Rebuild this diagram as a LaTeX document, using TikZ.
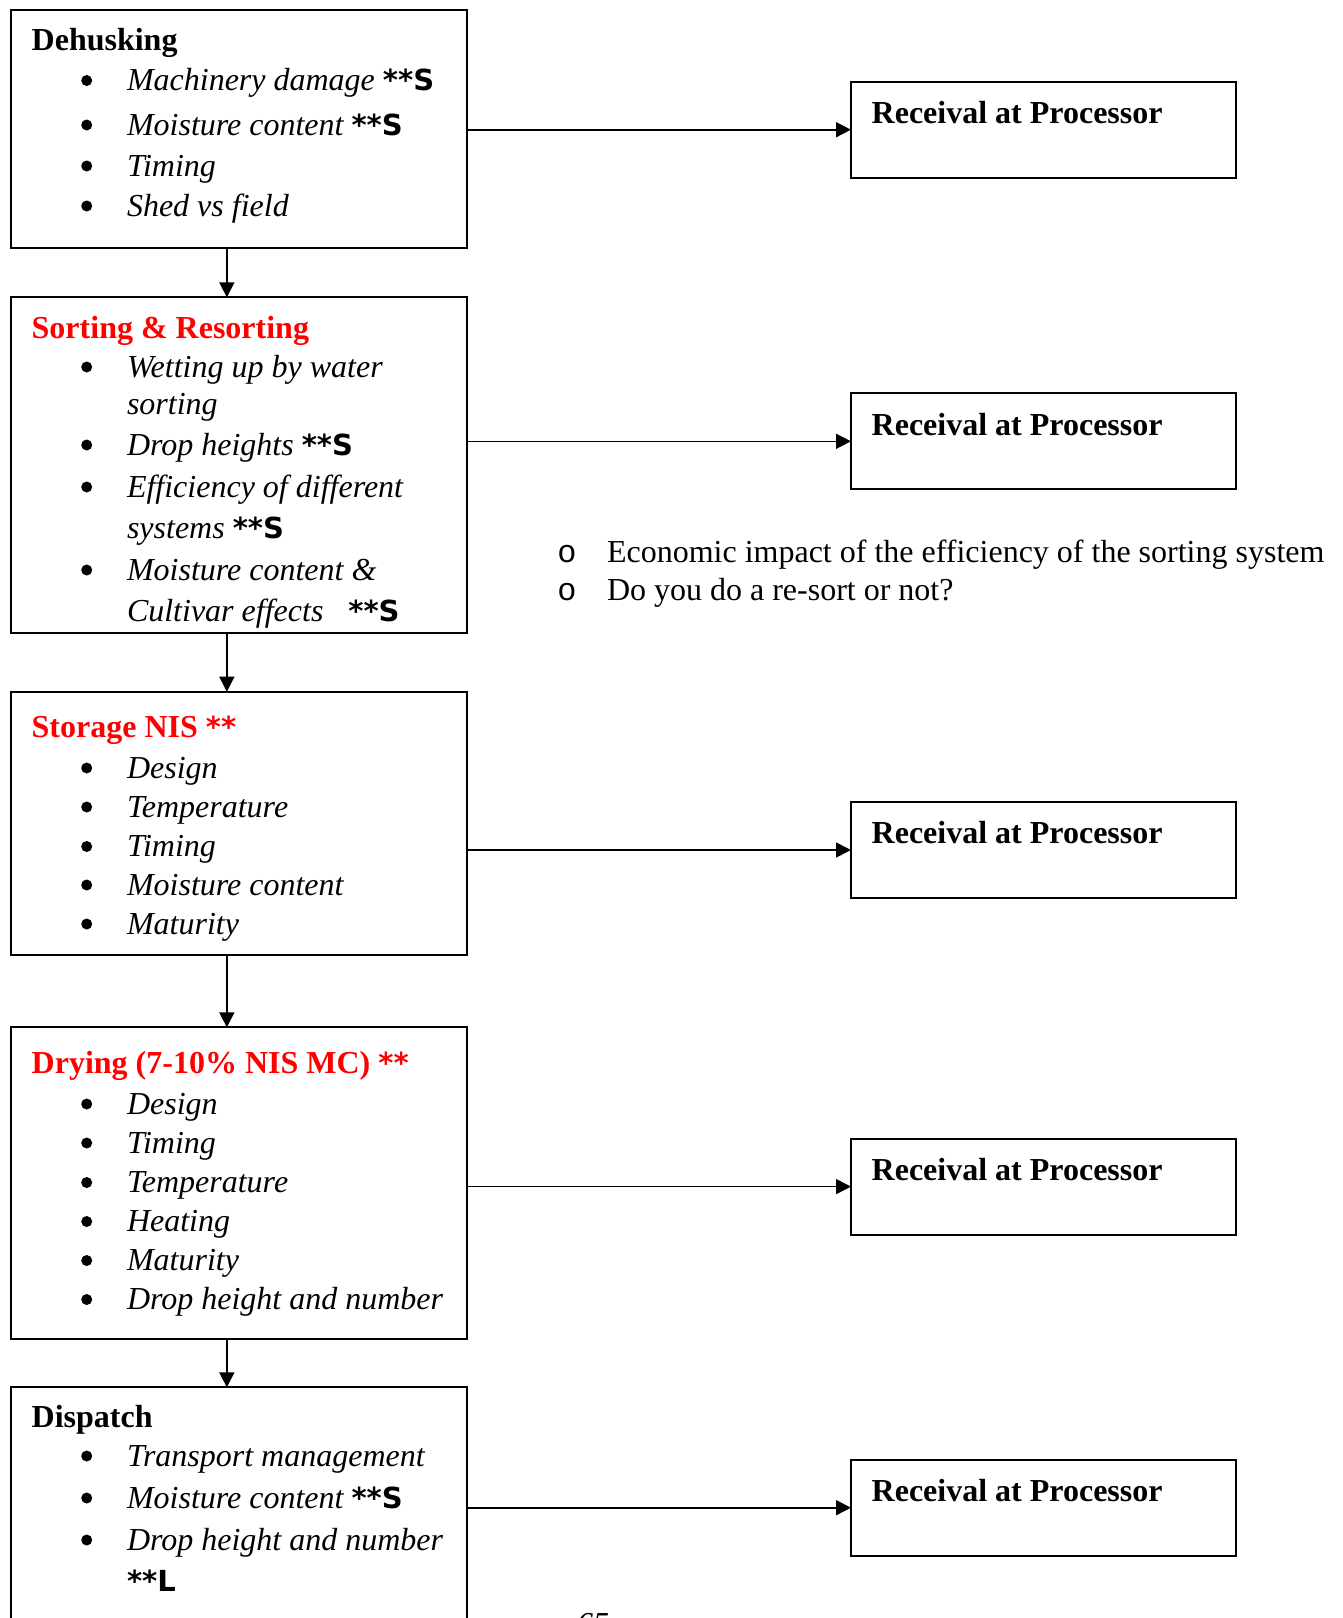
\documentclass[tikz,border=0pt]{standalone}
\usepackage{fontspec}
\setmainfont{Liberation Serif}
\newfontfamily\starfont{DejaVu Sans}
\newfontfamily\circfont{Liberation Mono}
\usetikzlibrary{arrows.meta}
\newcommand\starS{{\starfont\upshape\bfseries\fontsize{29}{30}\selectfont **S}}
\newcommand\starL{{\starfont\upshape\bfseries\fontsize{29}{30}\selectfont **L}}
\newcommand\starR{{\starfont\upshape\bfseries\fontsize{29}{30}\selectfont **}}
\begin{document}
\begin{tikzpicture}[x=1pt,y=-1pt,
  stage/.style={draw, line width=2pt, anchor=north west, inner sep=0pt, outer sep=0pt, minimum width=455.7pt},
  recv/.style={draw, line width=2pt, anchor=north west, inner sep=0pt, outer sep=0pt, minimum width=385pt, minimum height=96pt},
  txt/.style={anchor=base west, inner sep=0pt, outer sep=0pt, font=\fontsize{32}{38}\selectfont},
  hd/.style={txt, font=\fontsize{32}{38}\selectfont\bfseries},
  itm/.style={txt, font=\fontsize{32}{38}\selectfont\itshape},
  bul/.style={circle, fill, draw=none, inner sep=0pt, outer sep=0pt, minimum size=11pt},
  flow/.style={line width=1.6pt, -{Triangle[length=15pt,width=15pt]}},
]
\useasboundingbox (0,0) rectangle (1343,1618);

% ---------- stage boxes ----------
\node[stage, minimum height=238.8pt] (b1) at (11,9.5) {};
\node[stage, minimum height=336pt]   (b2) at (11,297.3) {};
\node[stage, minimum height=263.3pt] (b3) at (11,691.7) {};
\node[stage, minimum height=312pt]   (b4) at (11,1027.3) {};
\node[stage, minimum height=300pt]   (b5) at (11,1387.3) {};

% ---------- receival boxes ----------
\node[recv] (r1) at (851,81.7) {};
\node[recv] (r2) at (851,393.3) {};
\node[recv] (r3) at (851,802) {};
\node[recv] (r4) at (851,1138.6) {};
\node[recv] (r5) at (851,1459.7) {};
\node[hd] (r1t) at (871.7,123.3)  {Receival at Processor};
\node[hd] (r2t) at (871.7,435)    {Receival at Processor};
\node[hd] (r3t) at (871.7,843.6)  {Receival at Processor};
\node[hd] (r4t) at (871.7,1180.2) {Receival at Processor};
\node[hd] (r5t) at (871.7,1501.3) {Receival at Processor};

% ---------- Dehusking ----------
\node[hd] (h1) at (31.7,50) {Dehusking};
\node[itm] (d1) at (127,90.5) {Machinery damage \starS};
\node[itm] (d2) at (127,135)  {Moisture content \starS};
\node[itm] (d3) at (127,176)  {Timing};
\node[itm] (d4) at (127,216)  {Shed vs field};
\foreach \y [count=\i] in {90.5,135,176,216} \node[bul] (bd\i) at (86.7,\y-10) {};

% ---------- Sorting ----------
\node[hd, text=red] (h2) at (31.7,338) {Sorting \& Resorting};
\node[itm] (s1) at (127,377)   {Wetting up by water};
\node[itm] (s1b) at (127,414)  {sorting};
\node[itm] (s2) at (127,455)   {Drop heights \starS};
\node[itm] (s3) at (127,497)   {Efficiency of different};
\node[itm] (s3b) at (127,538)  {systems \starS};
\node[itm] (s4) at (127,580)   {Moisture content \&};
\node[itm] (s4b) at (127,621.5) {Cultivar effects\hspace{25pt}\starS};
\foreach \y [count=\i] in {377,455,497,580} \node[bul] (bs\i) at (86.7,\y-10) {};

% ---------- Storage ----------
\node[hd, text=red] (h3) at (31.7,737) {Storage NIS \starR};
\node[itm] (t1) at (127,778)   {Design};
\node[itm] (t2) at (127,817)   {Temperature};
\node[itm] (t3) at (127,856.5) {Timing};
\node[itm] (t4) at (127,895)   {Moisture content};
\node[itm] (t5) at (127,934)   {Maturity};
\foreach \y [count=\i] in {778,817,856.5,895,934} \node[bul] (bt\i) at (86.7,\y-10) {};

% ---------- Drying ----------
\node[hd, text=red] (h4) at (31.7,1073) {Drying (7-10\% NIS MC) \starR};
\node[itm] (g1) at (127,1114)   {Design};
\node[itm] (g2) at (127,1153)   {Timing};
\node[itm] (g3) at (127,1192.5) {Temperature};
\node[itm] (g4) at (127,1231.5) {Heating};
\node[itm] (g5) at (127,1270.5) {Maturity};
\node[itm] (g6) at (127,1309.5) {Drop height and number};
\foreach \y [count=\i] in {1114,1153,1192.5,1231.5,1270.5,1309.5} \node[bul] (bg\i) at (86.7,\y-10) {};

% ---------- Dispatch ----------
\node[hd] (h5) at (31.7,1427.5) {Dispatch};
\node[itm] (p1) at (127,1466) {Transport management};
\node[itm] (p2) at (127,1508) {Moisture content \starS};
\node[itm] (p3) at (127,1550) {Drop height and number};
\node[txt] (p3b) at (127,1591) {\starL};
\foreach \y [count=\i] in {1466,1508,1550} \node[bul] (bp\i) at (86.7,\y-10) {};

% ---------- note list ----------
\node[anchor=base, inner sep=0pt, font=\circfont\fontsize{32}{38}\selectfont] (o1) at (567,562) {o};
\node[anchor=base, inner sep=0pt, font=\circfont\fontsize{32}{38}\selectfont] (o2) at (567,600) {o};
\node[txt] (n1) at (607,562) {Economic impact of the efficiency of the sorting system};
\node[txt] (n2) at (607,600) {Do you do a re-sort or not?};

% ---------- page number (cut off) ----------
\node[txt, font=\fontsize{32}{38}\selectfont\itshape] (pg) at (577,1634) {65};

% ---------- connectors ----------
\draw[flow] ([xshift=-12pt]b1.south) -- ([xshift=-12pt]b2.north);
\draw[flow] ([xshift=-12pt]b2.south) -- ([xshift=-12pt]b3.north);
\draw[flow] ([xshift=-12pt]b3.south) -- ([xshift=-12pt]b4.north);
\draw[flow] ([xshift=-12pt]b4.south) -- ([xshift=-12pt]b5.north);
\draw[flow] (b1.east |- r1.west) -- (r1.west);
\draw[flow] (b2.east |- r2.west) -- (r2.west);
\draw[flow] (b3.east |- r3.west) -- (r3.west);
\draw[flow] (b4.east |- r4.west) -- (r4.west);
\draw[flow] (b5.east |- r5.west) -- (r5.west);
\end{tikzpicture}
\end{document}
